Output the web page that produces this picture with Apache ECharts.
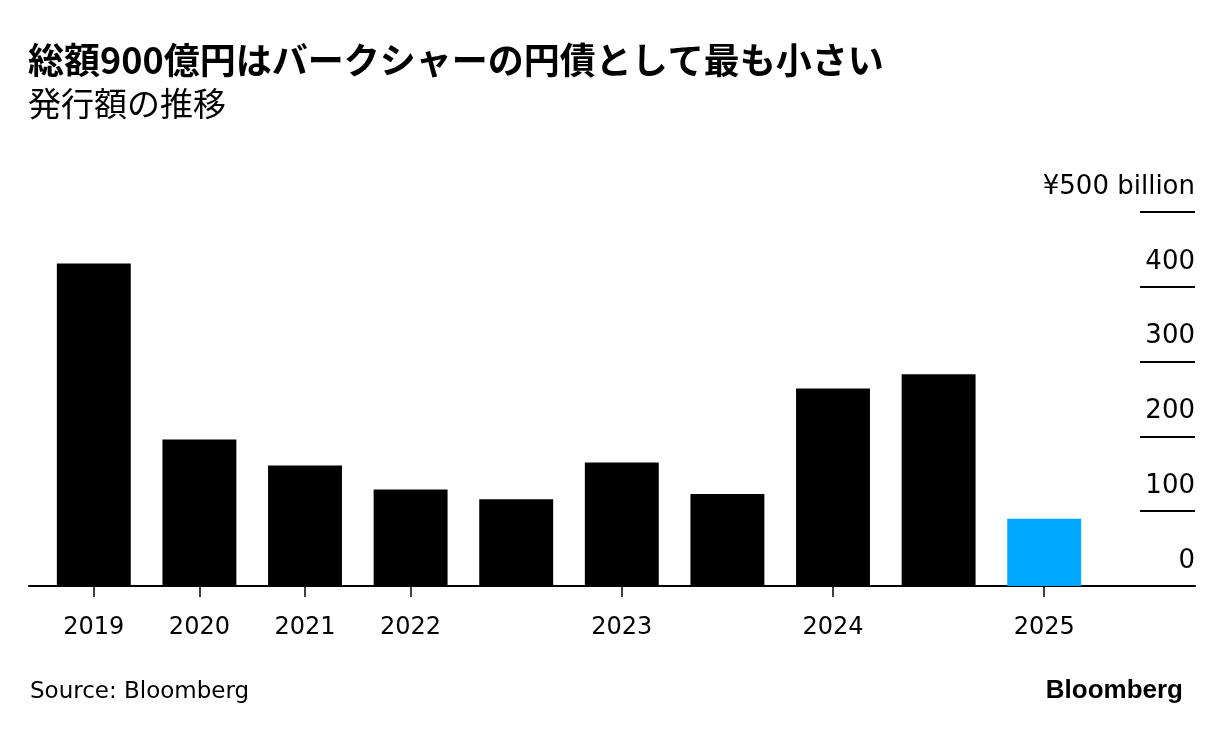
<!DOCTYPE html>
<html><head><meta charset="utf-8">
<script src="https://cdn.jsdelivr.net/npm/echarts@6/dist/echarts.min.js"></script>
<style>html,body{margin:0;padding:0;background:#fff}#c{width:1223px;height:732px}</style>
</head><body><div id="c"></div>
<script>
const categories = ['2019','2020','2021','2022a','2022b','2023a','2023b','2024a','2024b','2025'];
const tickLabels = ['2019','2020','2021','2022','','2023','','2024','','2025'];
const values = [431, 196, 161, 129, 116, 165, 123, 264, 283, 90];
const highlightIndex = 9;
const yMin = 0, yMax = 500, yStep = 100;

const FONT = '"DejaVu Sans", "Liberation Sans", sans-serif';
const LOGO = '"Liberation Sans", sans-serif';
const JP = '"Noto Sans CJK JP", "Liberation Sans", sans-serif';
const chart = echarts.init(document.getElementById('c'), null, {renderer: 'canvas'});
const gTop = 212, gBottom = 146;
chart.setOption({
  animation: false,
  backgroundColor: '#fff',
  title: [
    {text: '総額900億円はバークシャーの円債として最も小さい', left: 23, top: 37,
     textStyle: {fontFamily: JP, fontSize: 36, fontWeight: 'bold', color: '#000'}},
    {text: '発行額の推移', left: 23, top: 82,
     textStyle: {fontFamily: JP, fontSize: 33, fontWeight: 'normal', color: '#000'}},
    {text: 'Source: Bloomberg', left: 25, top: 676,
     textStyle: {fontFamily: FONT, fontSize: 23, fontWeight: 'normal', color: '#000'}},
    {text: 'Bloomberg', right: 35, top: 673,
     textStyle: {fontFamily: LOGO, fontSize: 26, fontWeight: 'bold', color: '#000'}}
  ],
  grid: [
    {left: 41, right: 126, top: gTop, bottom: gBottom},
    {left: 1140, right: 28, top: gTop, bottom: gBottom},
    {left: 29, right: 28, top: gTop, bottom: gBottom}
  ],
  xAxis: [
    {type: 'category', gridIndex: 0, data: categories,
     axisLine: {show: false},
     axisTick: {show: true, alignWithLabel: true, length: 11, lineStyle: {color: '#000', width: 1.5},
       interval: (i) => tickLabels[i] !== ''},
     axisLabel: {interval: 0, margin: 30, fontFamily: FONT, fontSize: 24, color: '#000',
       formatter: (v, i) => tickLabels[i]}},
    {type: 'value', gridIndex: 1, show: false},
    {type: 'value', gridIndex: 2, position: 'bottom',
     axisLine: {show: true, onZero: false, lineStyle: {color: '#000', width: 2}},
     axisTick: {show: false}, axisLabel: {show: false}, splitLine: {show: false}}
  ],
  yAxis: [
    {type: 'value', gridIndex: 0, min: yMin, max: yMax, interval: yStep, show: false},
    {type: 'value', gridIndex: 1, min: yMin, max: yMax, interval: yStep, position: 'right',
     axisLine: {show: false}, axisTick: {show: false},
     splitLine: {show: true, lineStyle: {color: '#000', width: 2}},
     axisLabel: {inside: true, margin: 0, verticalAlign: 'bottom', align: 'right',
       padding: [0, 0, 12, 0], fontFamily: FONT, fontSize: 26, color: '#000',
       formatter: (v) => v === yMax ? '¥' + v + ' billion' : String(v)}},
    {type: 'value', gridIndex: 2, min: yMin, max: yMax, show: false}
  ],
  series: [{
    type: 'bar', xAxisIndex: 0, yAxisIndex: 0,
    barCategoryGap: '30%',
    data: values.map((v, i) => ({value: v, itemStyle: {color: i === highlightIndex ? '#00A9FF' : '#000'}}))
  }]
});
</script></body></html>
